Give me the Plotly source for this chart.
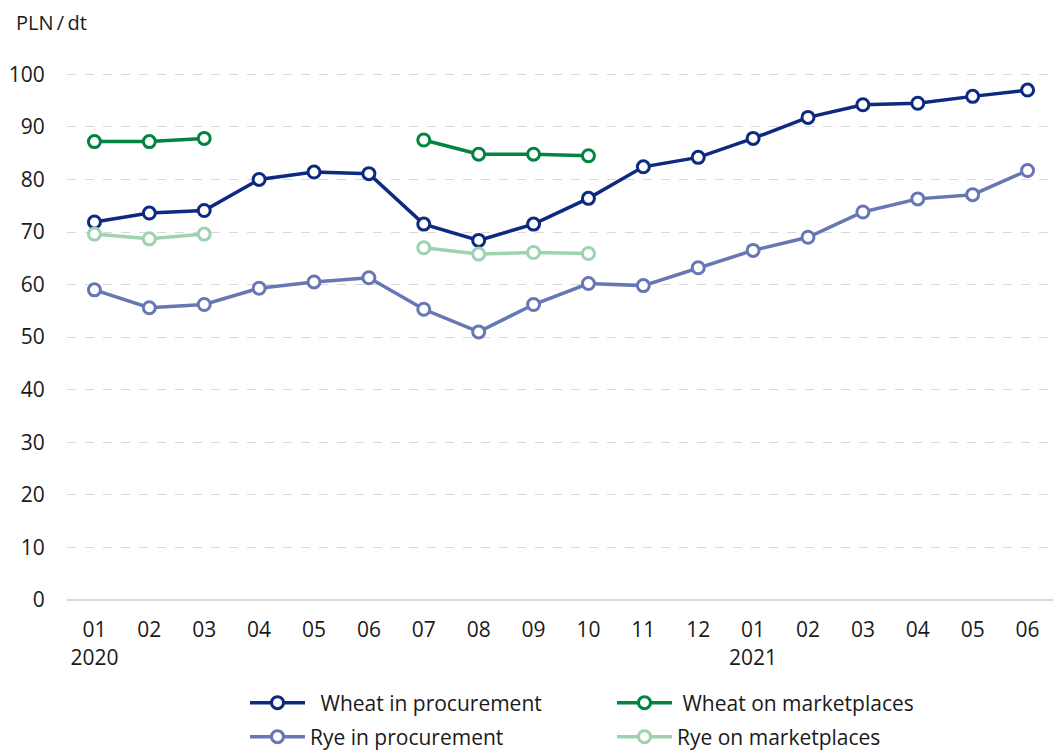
import plotly.graph_objects as go

months = ["01", "02", "03", "04", "05", "06", "07", "08", "09", "10", "11", "12",
          "01", "02", "03", "04", "05", "06"]
years = ["2020", "", "", "", "", "", "", "", "", "", "", "", "2021", "", "", "", "", ""]

wheat_procurement = [71.9, 73.6, 74.1, 80.0, 81.4, 81.1, 71.5, 68.4, 71.5, 76.4,
                     82.4, 84.2, 87.8, 91.8, 94.2, 94.5, 95.8, 97.0]
wheat_marketplaces = [87.2, 87.2, 87.8, None, None, None, 87.5, 84.8, 84.8, 84.5,
                      None, None, None, None, None, None, None, None]
rye_procurement = [59.0, 55.6, 56.2, 59.3, 60.5, 61.3, 55.3, 51.0, 56.2, 60.2,
                   59.8, 63.2, 66.5, 69.0, 73.8, 76.3, 77.1, 81.7]
rye_marketplaces = [69.6, 68.7, 69.6, None, None, None, 67.0, 65.8, 66.1, 65.9,
                    None, None, None, None, None, None, None, None]

y_ticks = [0, 10, 20, 30, 40, 50, 60, 70, 80, 90, 100]

x = list(range(len(months)))
ticktext = [m + ("<br>" + y if y else "<br> ") for m, y in zip(months, years)]

FONT = "Open Sans"
W, H = 1053, 745  # page adds an 8px body margin

series = [
    ("\u2002Wheat in procurement", wheat_procurement, "#0b2a80", "legend"),
    (" Wheat on marketplaces", wheat_marketplaces, "#00843f", "legend"),
    ("Rye in procurement", rye_procurement, "#6777b4", "legend2"),
    ("Rye on marketplaces", rye_marketplaces, "#9dd3b1", "legend2"),
]

fig = go.Figure()
for name, vals, color, leg in series:
    fig.add_trace(go.Scatter(
        x=x, y=vals, name=name, mode="lines+markers",
        line=dict(color=color, width=3.5),
        marker=dict(symbol="circle", size=12, color="white",
                    line=dict(color=color, width=3)),
        connectgaps=False, legend=leg,
    ))

leg_common = dict(
    orientation="h", xref="container", yref="container",
    x=237 / W, xanchor="left", yanchor="middle",
    entrywidth=297, itemwidth=55, font=dict(size=21, color="#1a1a1a"),
    bgcolor="rgba(0,0,0,0)",
)

fig.update_layout(
    width=W, height=H,
    margin=dict(l=59, r=6, t=40, b=153, autoexpand=False),
    plot_bgcolor="white", paper_bgcolor="white",
    font=dict(family=FONT, size=21, color="#1a1a1a"),
    xaxis=dict(
        range=[-0.5, len(months) - 0.5], automargin=False,
        tickmode="array", tickvals=x, ticktext=ticktext,
        showgrid=False, zeroline=False, showline=False,
        ticks="outside", ticklen=11, tickcolor="rgba(0,0,0,0)",
        tickfont=dict(size=21),
    ),
    yaxis=dict(
        range=[0, 105], automargin=False,
        tickmode="array", tickvals=y_ticks,
        showgrid=True, gridcolor="#d9d9d9", griddash="dash", gridwidth=1,
        zeroline=True, zerolinecolor="#d9d9d9", zerolinewidth=2,
        showline=False,
        ticks="outside", ticklen=17, tickcolor="rgba(0,0,0,0)",
        tickfont=dict(size=21),
    ),
    legend=dict(leg_common, y=1 - 695 / H),
    legend2=dict(leg_common, y=1 - 729 / H),
    annotations=[dict(
        text="PLN\u2009/\u2009dt", xref="paper", yref="paper",
        x=(6 - 59) / 988, y=(592 - 14) / 552,
        xanchor="left", yanchor="middle", showarrow=False,
        font=dict(size=20),
    )],
)

fig.write_html("out.html")
